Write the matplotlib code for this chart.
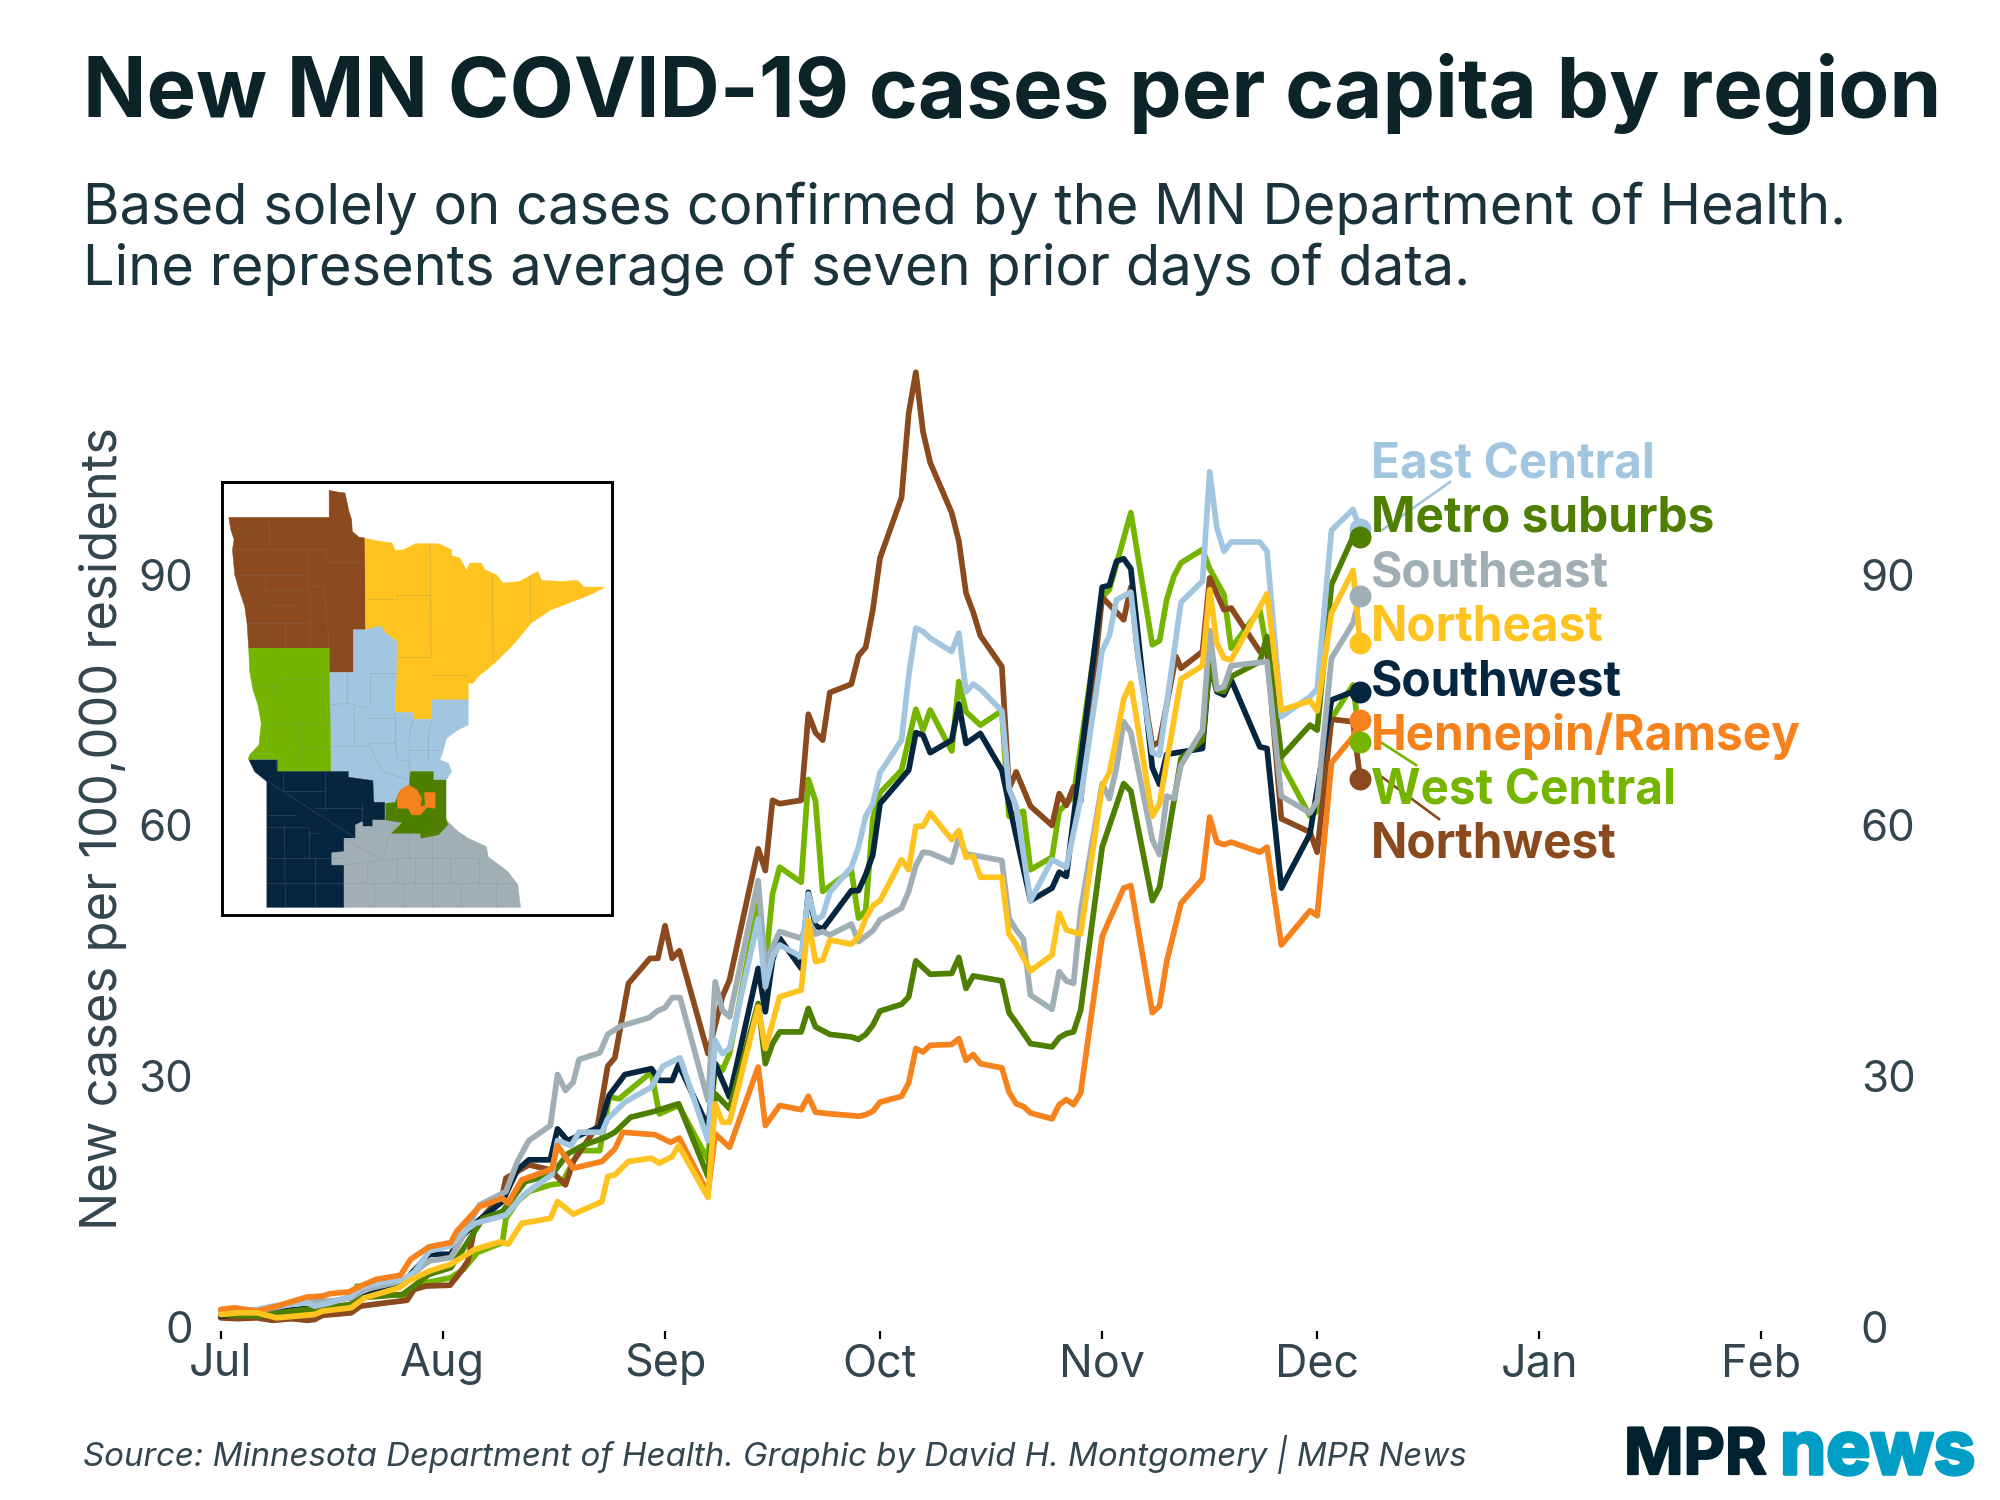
import matplotlib
matplotlib.use("Agg")
import matplotlib.pyplot as plt
import matplotlib.patheffects as pe
from matplotlib.lines import Line2D
from matplotlib.patches import Polygon
from matplotlib.collections import LineCollection

plt.rcParams['font.family'] = ['Inter', 'DejaVu Sans']

W, H = 2000, 1500

month_labels = ['Jul', 'Aug', 'Sep', 'Oct', 'Nov', 'Dec', 'Jan', 'Feb']
month_days = [0, 31, 62, 92, 123, 153, 184, 215]
y_ticks = [0, 30, 60, 90]

nw_days = [0,2.4,5.1,7.25,9.9,12.1,13.1,14.2,18.2,19.5,22.2,26,27,28.6,32,33.4,34.5,35.5,36.6,39.3,39.8,41.4,43,46,48.1,49.2,52.6,54,55,56.9,59.9,61,62,63,64,68,70,71,75,76,77,78,81,82,83,84,85,88,89,90,91,92,95,96,97,98,99,102,103,104,105,106,109,110,111,113,116,117,118,119,120,123,126,127,128,130,131,133.3,134,137,138,140,141,145,146,148,152,153,155,158,159]
nw_vals = [1.1,1.0,1.1,0.8,1.0,0.8,0.9,1.4,1.7,2.5,2.8,3.2,4.5,4.9,5.0,6.5,7.9,12.2,13.2,15.8,17.8,18.6,19.4,18.8,17,19.8,24.1,31.2,32.2,41.1,44.1,44.1,48,44.1,45,32.7,39.5,41.5,57.2,54.6,63,62.6,63,73.3,71.1,70.2,75.9,76.9,80.3,81.3,85.8,92,99.2,109.3,114.2,107.1,103.4,97.4,94,87.8,85.5,82.7,79,64.4,66.4,62.3,60,63.8,62.4,64.6,62.9,87.3,84.6,88.5,80.3,69.5,70,80.2,78.8,80.8,89.6,85.8,86,80.8,81,60.8,59.2,56.8,72.7,72.4,65.6]

ec_days = [0,2.4,5.1,7.3,12.1,13.1,15.3,18.2,19.5,22.2,25.4,27,29.1,32.1,33.4,35.5,39.8,42.5,46.2,47,48.9,50,53.2,54,56.4,60.1,61.7,64.1,68,69,70,71,75,76,77,78,81,82,83,84,85,88,89,90,91,92,95,96,97,98,99,102,103,104,105,106,109,110,111,113,116,118,120,123,124,125,127,128,130,131,134,137,138,139,140,141,145,146,148,152,153,155,158,159]
ec_vals = [1.7,1.9,2.1,2.5,2.9,2.5,2.9,3.7,4.7,5.3,5.7,6.5,9.1,9.7,11.0,12.4,13.4,16,18.2,22.3,21.7,23.3,23.3,24.9,26.9,28.7,31.2,32.2,22.3,34.3,32.7,33.3,48.8,40.7,44.3,45.7,44.3,51.8,48.6,49.2,52,55,57.4,61.1,62.6,66.3,70.2,77.9,83.6,83.2,82.4,80.8,83,76,76.9,76.3,73.7,64.4,62.3,51,55.9,55,63.2,80.9,82.7,87,87.9,80.3,68.7,68.4,86.7,89.2,102.3,95.6,92.8,93.9,93.9,92.8,73,75.4,76.3,95.3,97.8,95.4]

ms_days = [0,5.1,9.9,18.2,19.5,25.4,29.1,32.1,34.5,36.6,39.3,42.5,46.2,48.4,50.5,53.7,55,57.2,60.1,63.9,68,69,71,75,76,77,78,81,82,83,85,88,89,90,91,92,95,96,97,99,102,103,104,105,109,110,111,113,116,117,118,119,120,123,126,127,130,131,134,137,138,139,140,141,145,146,148,152,153,155,158,159]
ms_vals = [1.5,1.3,1.9,2.7,3.5,3.9,6.3,7.1,10.2,13,13.8,17.4,18.2,20.7,21.7,22.7,23.3,25.1,25.7,26.7,18,27.9,26.1,38.7,31.5,33.9,35.3,35.3,38.1,35.9,35,34.7,34.4,35,36.1,37.8,38.6,39.5,43.8,42.2,42.3,44.2,40.5,42,41.4,37.6,36.4,33.9,33.5,34.6,35.1,35.3,37.9,57.4,65,64.1,51,52.6,68,70.2,79.4,76.2,76,77.8,79.6,82.6,68.2,72,71.4,88.8,94.5,94.5]

se_days = [0,5.1,12.1,15.3,18.2,20.1,25.4,29.1,32.1,33.4,36.1,39.8,41.4,43,46,47,48.1,49.2,50,52.9,54,55.8,59.8,60.9,62,63,64.1,68,69,70,71,75,76,77,78,81,82,83,84,85,88,89,91,92,95,96,97,98,99,102,103,104,109,110,111,112,113,116,117,118,119,120,123,124,125,126,127,130,131,132,133,134,137,138,139,140,141,146,148,152,153,155,158,159]
se_vals = [1.7,1.9,3.1,3.1,3.5,4.5,5.5,7.9,8.3,10.2,14.6,16.2,19.8,22.3,24.1,30.2,28.3,29.3,32,32.8,35,36,37,37.8,38.2,39.4,39.4,27.1,41.3,37.9,37.1,53.4,43.1,45.5,47.3,46.5,48.6,47,47.3,46.9,48.2,46.1,47.4,48.7,50.1,52.1,55.2,56.8,56.7,55.6,58.6,56.6,55.8,48.9,47.5,46.4,39.7,38,42.5,41.4,41.1,49.8,65,63.2,66.9,72.4,71.1,58.3,56.5,63.5,63.2,67.2,71.4,83.3,76.3,76.6,79.1,79.6,63.5,61.5,62.9,80,84.2,87.5]

ne_days = [0,2.4,5.1,7.8,13.1,14.2,18.2,20.1,24.9,26.2,29.1,32.1,35.5,39,40.1,42,46,47,49.2,53.2,54,55,56.9,60.1,61.2,63,63.9,68,69,70,71,75,76,78,81,82,83,84,85,88,89,90,91,92,95,96,97,98,99,102,103,104,105,106,109,110,111,113,116,117,118,120,123,124,125,126,127,130,131,134,137,138,139,140,141,146,148,152,153,155,158,159]
ne_vals = [1.5,1.7,1.7,1.1,1.5,1.9,2.3,3.5,4.7,5.5,6.7,7.5,9.3,10.2,9.9,12.4,13,15,13.5,15,18,18.2,19.8,20.2,19.6,20.4,21.7,15.5,26.7,24.5,24.5,38.3,33.3,39.5,40.3,48.6,43.7,43.9,46.3,45.8,46.7,48.9,50.4,51,55.9,54.7,59.9,59.9,61.5,58.3,59.4,56.2,56.3,53.8,53.8,47,45.8,42.6,44.5,49.5,47.5,47,64.7,66.3,70.5,75.1,77,61.1,62.6,77.5,79.1,88.2,81.8,80,79.8,87.7,73.8,74.9,73.7,85.4,90.5,81.8]

sw_days = [0,5.1,13.1,18.2,19.5,25.4,29.1,32.1,33.4,35.5,39.3,41.4,43,46,47,48.4,50.5,52.9,54.2,56.4,60.1,61.2,63,63.9,68,69,71,75,76,77,78,81,82,83,84,88,89,90,91,92,96,97,98,99,102,103,104,106,109,110,113,116,117,118,123,124,125,126,127,130,131,132,137,138,139,140,141,145,146,148,152,155,158,159]
sw_vals = [1.3,1.7,2.3,2.5,3.5,5.3,8.7,8.7,10.6,12.4,15,18.8,20,20,23.7,22.3,23.1,23.9,27.7,30.2,30.9,29.5,29.5,31.4,23.9,31.5,27.5,42.9,37.7,43.9,46.5,42.9,52,48,47.6,52.2,52.2,54.1,56.5,62.6,66.6,71.1,70.8,68.7,70.2,74.5,69.8,71,66.6,62.6,51,52.5,54.4,53.9,88.5,88.7,91.6,91.9,90.7,66.9,64.9,68.5,69.2,79.4,76,75.6,77.4,69.4,69.2,52.5,59,75,76,75.9]

hr_days = [0,1.9,5.1,7.8,12.1,14.2,15.3,17.9,19.5,21.7,25.1,26.5,29.1,32.1,32.9,36.1,39.3,40.1,42,46.2,47,49.2,53.2,55,56.1,60.6,62.8,64,68,69,71,75,76,78,81,82,83,85,88,89,90,91,92,95,96,97,98,99,102,103,104,105,106,109,110,111,112,113,116,117,118,119,120,123,124,126,127,130,131,132,134,137,138,139,140,141,145,146,148,152,153,155,158,159]
hr_vals = [2.1,2.3,1.9,2.5,3.6,3.7,4.0,4.2,4.9,5.7,6.2,8.1,9.6,10.1,11.4,14.4,15.4,14.8,17.6,18.9,21.7,19,19.8,21.3,23.3,23,22.1,22.6,16,23.1,21.5,31.1,24.1,26.5,26,27.6,25.7,25.5,25.3,25.2,25.4,25.8,26.9,27.6,29.2,33.3,32.9,33.7,33.8,34.5,31.9,32.6,31.5,31,28.1,26.7,26.4,25.6,24.9,26.6,27.2,26.6,28,46.7,48.7,52.5,52.8,37.6,38.4,43.7,50.7,53.6,61,58,57.7,58,56.8,57.4,45.7,49.8,49.2,67.5,70.6,72.6]

wc_days = [0,5.1,8.3,13.1,14.2,18.2,19,25.4,27.5,32.1,33.9,35.8,39.3,39.8,41.4,43,46,47.6,50,52.9,54.2,55.6,60.1,61.2,63.9,68,69,70,71,75,76,77,78,81,82,83,84,88,89,90,91,92,95,97,98,99,102,103,104,106,109,110,112,113,116,117,119,123,124,127,130,131,132,133,134,137,138,140,141,145,146,148,152,153,155,158,159]
wc_vals = [1.5,1.3,1.7,1.9,2.3,2.5,4.9,3.7,5.1,5.9,6.9,8.9,10.1,13,15,16.2,17,17.2,21.1,21.1,27.5,27.3,30.5,25.5,26.5,20,31.5,30.7,32.7,50.6,43,51.8,55,53.2,65.5,62.9,52.1,54.6,48.9,49.8,60.8,63.9,66.6,73.9,71.4,73.8,68.9,77.2,73.6,72,73.7,61.1,61.7,54.7,56.2,61.7,63.5,87.3,88.2,97.4,81.6,82.1,87,89.8,91.4,93,90.7,87.6,81.2,85.8,80.9,67.5,61.1,61.7,72.8,76.8,70]

series = {
    'West Central': (wc_days, wc_vals, '#75b500'),
    'Northwest': (nw_days, nw_vals, '#8a4a1e'),
    'Southwest': (sw_days, sw_vals, '#06263f'),
    'Metro suburbs': (ms_days, ms_vals, '#4f7f00'),
    'Southeast': (se_days, se_vals, '#a0aeb6'),
    'East Central': (ec_days, ec_vals, '#a3c6e0'),
    'Hennepin/Ramsey': (hr_days, hr_vals, '#f5821c'),
    'Northeast': (ne_days, ne_vals, '#ffc31f'),
}
label_order = ['East Central', 'Metro suburbs', 'Southeast', 'Northeast', 'Southwest',
               'Hennepin/Ramsey', 'West Central', 'Northwest']
label_baselines = [477, 532, 586, 640, 695, 750, 804, 858]
connectors = [('East Central', (1450, 482), (1382, 530)),
              ('West Central', (1382, 743), (1416, 765)),
              ('Northwest', (1382, 777), (1439, 819))]
dot_order = ['Northwest', 'East Central', 'Metro suburbs', 'Northeast', 'Southeast',
             'Southwest', 'Hennepin/Ramsey', 'West Central']

map_regions = [
 ('#8a4a1e', [(87,203),(390,203),(390,122),(415,127),(438,130),(450,185),(458,210),(460,245),(480,262),(498,265),(500,540),(463,540),(463,668),(390,668),(390,595),(147,595),(142,520),(135,470),(118,420),(105,375),(98,300),(103,270),(93,240)]),
 ('#ffc31f', [(498,265),(525,272),(580,280),(590,302),(615,300),(650,282),(720,282),(760,300),(760,318),(785,325),(805,362),(815,340),(850,340),(860,360),(895,375),(915,400),(965,395),(1020,365),(1032,392),(1090,395),(1140,392),(1160,412),(1222,412),(1190,430),(1140,450),(1060,480),(1000,520),(950,580),(890,640),(840,680),(825,700),(810,700),(810,750),(700,750),(698,808),(645,808),(642,788),(590,788),(595,575),(560,550),(545,528),(500,540)]),
 ('#a3c6e0', [(463,540),(500,540),(545,528),(560,550),(595,575),(590,788),(642,788),(645,808),(698,808),(700,750),(810,750),(810,825),(780,840),(745,865),(735,900),(725,930),(750,940),(760,965),(745,988),(705,988),(705,965),(635,965),(632,1005),(600,1030),(590,1057),(525,1057),(522,992),(448,982),(448,965),(395,965),(390,668),(463,668)]),
 ('#75b500', [(147,595),(390,595),(395,965),(233,965),(233,928),(145,928),(150,915),(178,885),(185,820),(175,765),(160,720),(150,665)]),
 ('#06263f', [(148,930),(233,930),(233,965),(448,965),(448,982),(522,992),(525,1057),(558,1057),(558,1110),(522,1110),(522,1130),(492,1130),(490,1115),(470,1125),(470,1165),(435,1165),(435,1372),(202,1372),(202,995),(165,965)]),
 ('#a0aeb6', [(470,1165),(470,1125),(490,1115),(492,1130),(522,1130),(522,1110),(612,1112),(578,1150),(665,1150),(670,1165),(720,1155),(745,1112),(780,1145),(810,1165),(865,1190),(870,1220),(930,1265),(960,1305),(968,1372),(435,1372),(435,1245),(398,1245),(398,1208),(435,1205),(435,1165)]),
 ('#4f7f00', [(635,965),(705,965),(705,990),(743,990),(743,1105),(748,1125),(720,1155),(668,1165),(665,1150),(578,1150),(610,1118),(560,1110),(560,1060),(590,1057),(600,1030),(632,1005)]),
 ('#f5821c', [(630,1005),(655,1020),(670,1045),(665,1072),(680,1065),(678,1028),(710,1028),(710,1075),(685,1072),(665,1095),(640,1095),(628,1075),(597,1075),(595,1045),(605,1020)]),
]
county_lines = [
 [(208,203),(212,297)],[(100,297),(380,297)],[(382,297),(382,337),(498,337)],[(327,297),(327,430)],[(100,377),(325,377)],
 [(195,378),(195,440)],[(195,420),(310,420)],[(215,465),(290,465)],[(328,410),(375,410),(385,540)],[(142,520),(330,520)],
 [(257,520),(257,595)],[(332,430),(332,595)],[(388,540),(388,595)],
 [(695,282),(698,620)],[(500,448),(595,448),(595,437),(695,437)],[(883,375),(885,630)],[(998,375),(998,510)],
 [(595,622),(698,622)],[(698,677),(810,677)],
 [(240,595),(240,690)],[(150,706),(240,706)],[(240,688),(390,688)],[(226,706),(230,960)],[(230,818),(390,818)],
 [(302,818),(302,965)],[(185,835),(230,835)],[(302,892),(395,892)],
 [(445,668),(445,760),(505,775)],[(395,765),(445,760)],[(512,670),(512,770)],[(512,670),(595,670)],[(505,805),(590,805)],
 [(465,765),(467,888)],[(395,888),(510,888)],[(510,880),(590,880),(597,930),(632,935)],[(590,880),(590,790)],[(645,808),(632,850),(632,965)],
 [(700,808),(690,850),(690,930)],[(632,900),(725,900)],[(510,880),(550,965),(632,990)],
 [(250,965),(250,1018)],[(250,1022),(378,1022)],[(378,965),(378,1075)],[(202,1095),(290,1095)],[(202,1130),(325,1130)],
 [(205,995),(470,1165)],[(345,1075),(488,1075)],[(488,1055),(488,1130)],[(255,1130),(258,1372)],[(328,1130),(328,1225)],
 [(328,1150),(360,1150)],[(202,1225),(435,1225)],[(347,1225),(347,1372)],[(202,1298),(435,1298)],
 [(435,1165),(550,1230),(570,1160)],[(505,1245),(505,1295)],[(435,1245),(600,1225)],[(525,1298),(525,1372)],
 [(612,1298),(612,1372)],[(700,1155),(700,1372)],[(435,1298),(960,1298)],[(787,1298),(787,1372)],[(895,1298),(895,1372)],
 [(595,1225),(595,1298)],[(650,1225),(650,1298)],[(755,1225),(755,1298)],[(632,1150),(632,1225)],[(843,1225),(843,1298)],
 [(600,1225),(840,1225)],
]

fig = plt.figure(figsize=(W / 100, H / 100), dpi=100, facecolor='white')

def fx(x):
    return x / W

def fy(y):
    return 1 - y / H

def rect(l, t, r, b):
    return [l / W, 1 - b / H, (r - l) / W, (b - t) / H]

axis_color = '#33464f'
ax = fig.add_axes(rect(220.7, 365.6, 1761.5, 1331.2))
ax.set_xlim(0, 215)
ax.set_ylim(-0.5, 115)
for s in ax.spines.values():
    s.set_visible(False)
ax.patch.set_alpha(0)
ax.set_xticks(month_days)
ax.set_xticklabels(month_labels)
ax.set_yticks(y_ticks)
ax.tick_params(axis='x', length=5.8, width=1.6, color='black', pad=3, labelsize=32.3, labelcolor=axis_color)
ax.tick_params(axis='y', length=0, pad=20, labelsize=31.5, labelcolor=axis_color)
ax2 = ax.twinx()
ax2.set_ylim(-0.5, 115)
ax2.set_yticks(y_ticks)
for s in ax2.spines.values():
    s.set_visible(False)
ax2.tick_params(axis='y', length=0, pad=71.5, labelsize=31.5, labelcolor=axis_color)

for name, (d, v, c) in series.items():
    ax.plot(d, v, color=c, lw=4.1, solid_joinstyle='round', solid_capstyle='round', clip_on=False, zorder=3)
for name in dot_order:
    d, v, c = series[name]
    ax.plot([d[-1]], [v[-1]], 'o', color=c, ms=15.8, mew=0, clip_on=False, zorder=4)

for name, p0, p1 in connectors:
    fig.add_artist(Line2D([fx(p0[0]), fx(p1[0])], [fy(p0[1]), fy(p1[1])], color=series[name][2], lw=1.9, zorder=5))
for name, yb in zip(label_order, label_baselines):
    fig.text(fx(1371), fy(yb), name, color=series[name][2], fontsize=34.4, fontweight='bold', va='baseline', ha='left', zorder=6)

fig.text(fx(83), fy(117), 'New MN COVID-19 cases per capita by region', fontsize=60.05, fontweight='bold', color='#0c2429', va='baseline')
fig.text(fx(83), fy(224), 'Based solely on cases confirmed by the MN Department of Health.', fontsize=40.3, color='#1b333d', va='baseline')
fig.text(fx(83), fy(285), 'Line represents average of seven prior days of data.', fontsize=40.3, color='#1b333d', va='baseline')
fig.text(fx(103), fy(829), 'New cases per 100,000 residents', fontsize=36.5, color=axis_color, rotation=90, ha='center', va='center')
fig.text(fx(83), fy(1466), 'Source: Minnesota Department of Health. Graphic by David H. Montgomery | MPR News',
         fontsize=23.8, style='italic', color=axis_color, va='baseline')
heavy = [pe.withStroke(linewidth=1.6, foreground='#01212f')]
fig.text(fx(1624), fy(1474), 'MPR', fontsize=46, fontweight='bold', color='#01212f', va='baseline', path_effects=heavy)
heavy2 = [pe.withStroke(linewidth=2.6, foreground='#009dc4')]
fig.text(fx(1780), fy(1474), 'news', fontsize=53.5, fontweight='bold', color='#009dc4', va='baseline', path_effects=heavy2)

inset = fig.add_axes(rect(221.5, 482, 611.6, 915))
inset.set_xlim(65, 1243)
inset.set_ylim(1395, 97)
inset.set_xticks([])
inset.set_yticks([])
for s in inset.spines.values():
    s.set_linewidth(2.1)
    s.set_color('black')
for color, pts in map_regions:
    inset.add_patch(Polygon(pts, closed=True, facecolor=color, edgecolor=color, lw=0.3))
inset.add_collection(LineCollection(county_lines, colors='#808080', linewidths=0.5, alpha=0.35))

fig.savefig('out.png', dpi=100)
